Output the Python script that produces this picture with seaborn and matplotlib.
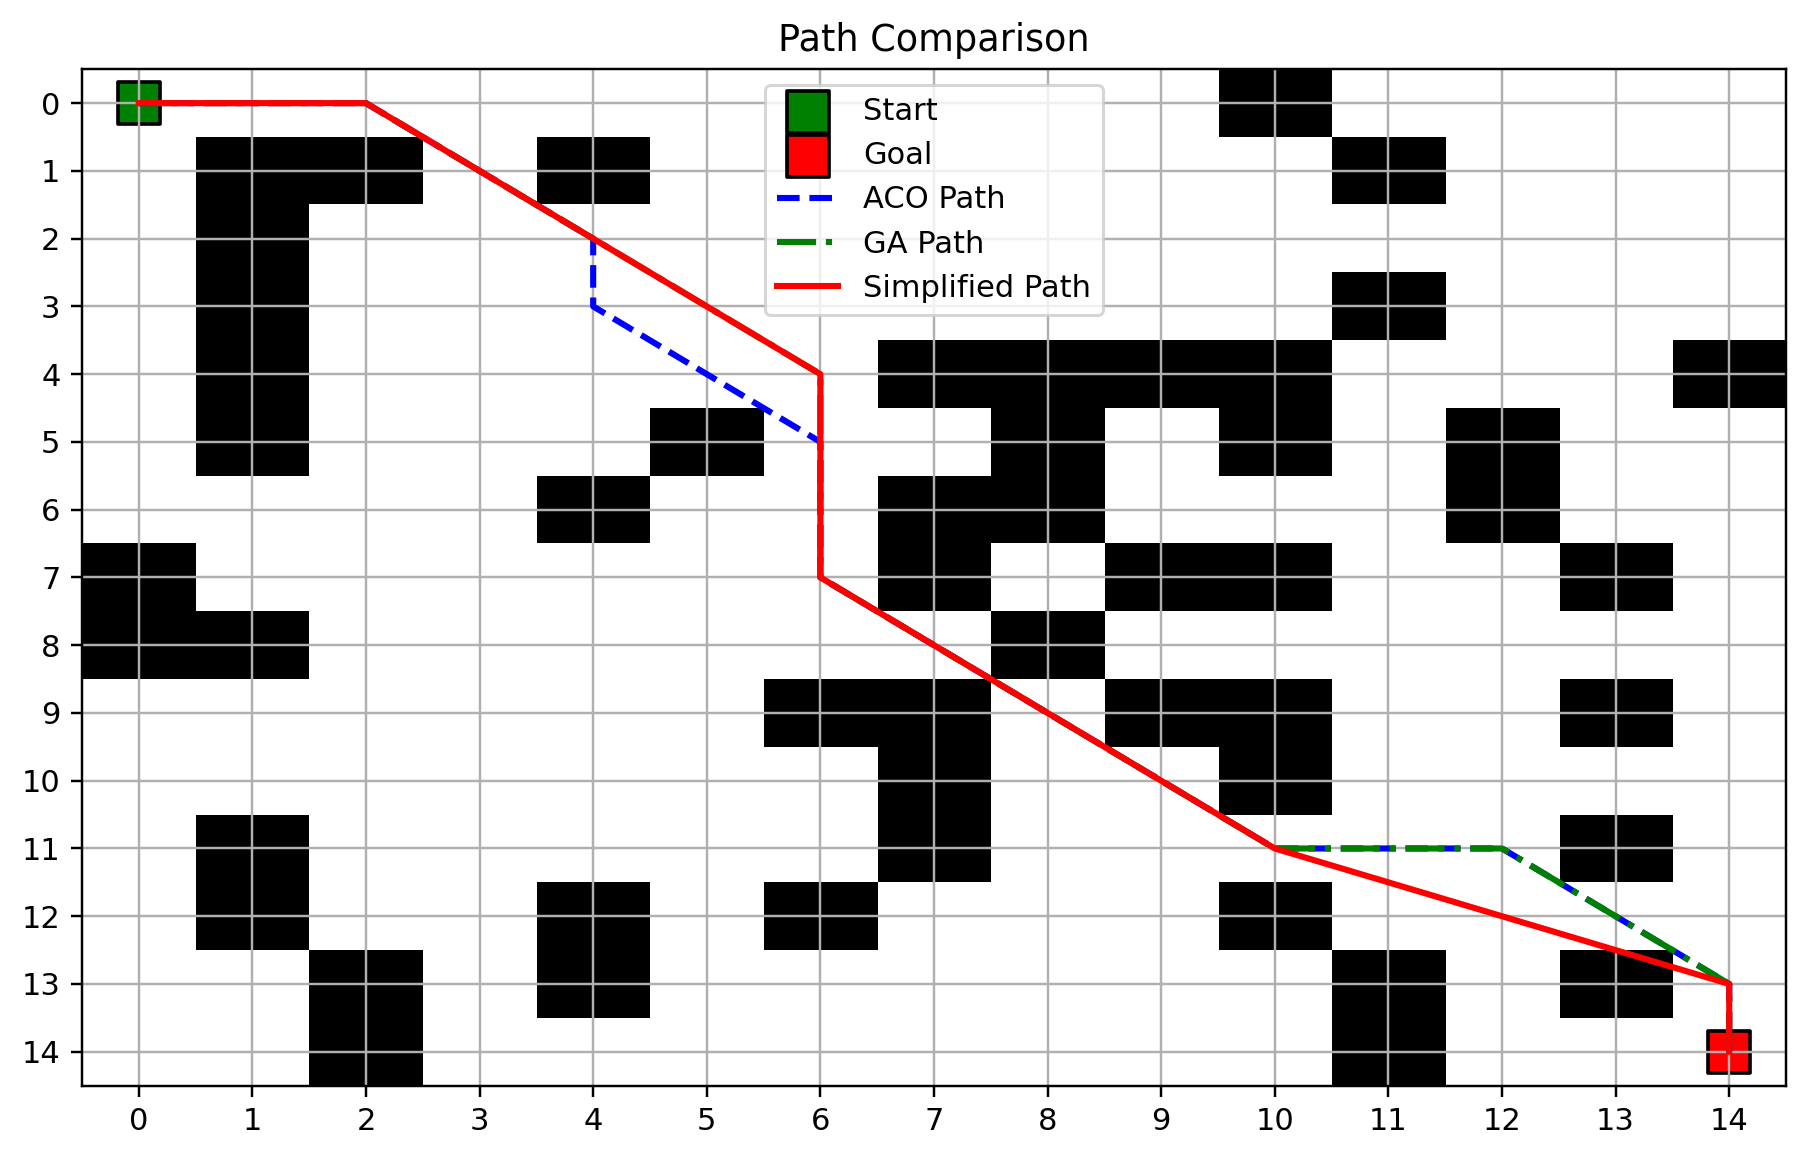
import numpy as np
import seaborn as sns
import matplotlib
matplotlib.use("Agg")
import matplotlib.pyplot as plt

# obstacle columns for each row of the 15x15 map
obstacle_rows = [
    [10],
    [1, 2, 4, 11],
    [1],
    [1, 11],
    [1, 7, 8, 9, 10, 14],
    [1, 5, 8, 10, 12],
    [4, 7, 8, 12],
    [0, 7, 9, 10, 13],
    [0, 1, 8],
    [6, 7, 9, 10, 13],
    [7, 10],
    [1, 7, 13],
    [1, 4, 6, 10],
    [2, 4, 11, 13],
    [2, 11],
]
grid_size = 15

start = (0, 0)
goal = (14, 14)

# paths as (x = column, y = row)
aco_x = [0, 1, 2, 3, 4, 4, 5, 6, 6, 6, 7, 8, 9, 10, 11, 12, 13, 14, 14]
aco_y = [0, 0, 0, 1, 2, 3, 4, 5, 6, 7, 8, 9, 10, 11, 11, 11, 12, 13, 14]

ga_x = [0, 1, 2, 3, 4, 5, 6, 6, 6, 6, 7, 8, 9, 10, 11, 12, 13, 14, 14]
ga_y = [0, 0, 0, 1, 2, 3, 4, 5, 6, 7, 8, 9, 10, 11, 11, 11, 12, 13, 14]

simple_x = [0, 2, 6, 6, 10, 14, 14]
simple_y = [0, 0, 4, 7, 11, 13, 14]

grid = np.zeros((grid_size, grid_size))
for r, cols in enumerate(obstacle_rows):
    for c in cols:
        grid[r, c] = 1

fig, ax = plt.subplots(figsize=(1809 / 220, 1158 / 220), dpi=220)
fig.subplots_adjust(left=0.0453, right=0.9873, top=0.9402, bottom=0.0625)

ax.imshow(grid, cmap="binary", aspect="auto", interpolation="nearest")

sns.scatterplot(x=[start[0]], y=[start[1]], marker="s", s=185, color="green",
                edgecolor="black", linewidth=1.2, label="Start", ax=ax)
sns.scatterplot(x=[goal[0]], y=[goal[1]], marker="s", s=185, color="red",
                edgecolor="black", linewidth=1.2, label="Goal", ax=ax)

sns.lineplot(x=aco_x, y=aco_y, sort=False, estimator=None, color="blue",
             linestyle="--", linewidth=2, label="ACO Path", ax=ax)
sns.lineplot(x=ga_x, y=ga_y, sort=False, estimator=None, color="green",
             linestyle="-.", linewidth=2, label="GA Path", ax=ax)
sns.lineplot(x=simple_x, y=simple_y, sort=False, estimator=None, color="red",
             linestyle="-", linewidth=2, label="Simplified Path", ax=ax)

ax.set_xticks(range(grid_size))
ax.set_yticks(range(grid_size))
ax.set_xlim(-0.5, grid_size - 0.5)
ax.set_ylim(grid_size - 0.5, -0.5)
ax.grid(True)
ax.set_xlabel("")
ax.set_ylabel("")
ax.set_title("Path Comparison")
ax.legend(loc="upper center")

fig.savefig("out.png", dpi=220)
